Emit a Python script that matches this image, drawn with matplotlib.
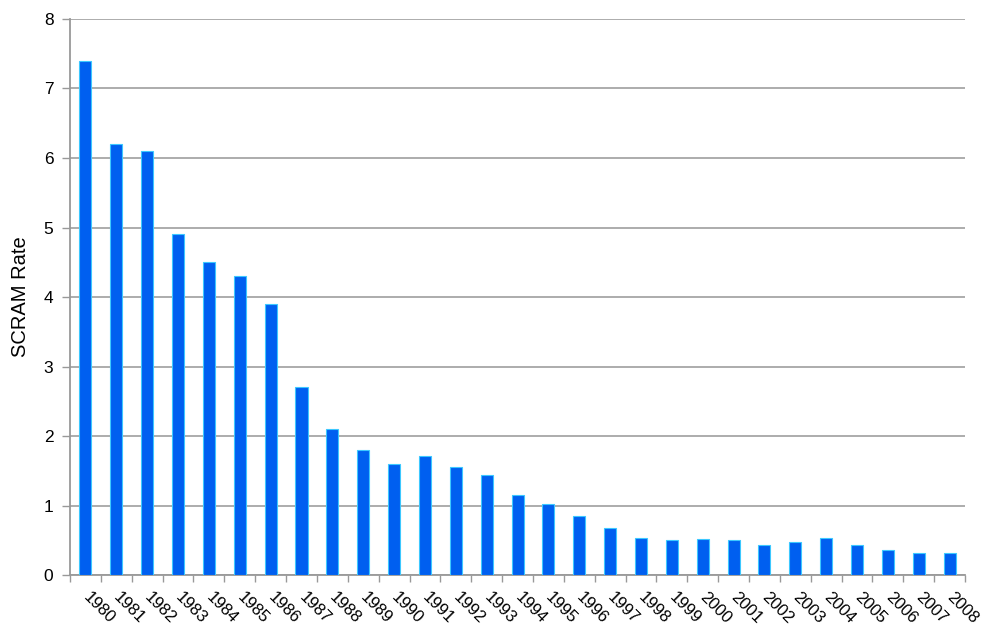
import matplotlib.pyplot as plt
import numpy as np

plt.rcParams['font.family'] = ['Liberation Sans', 'DejaVu Sans']

years = [str(y) for y in range(1980, 2009)]
scram_rate = [7.4, 6.2, 6.1, 4.9, 4.5, 4.3, 3.9, 2.7, 2.1, 1.8, 1.6, 1.72, 1.55, 1.44,
              1.15, 1.02, 0.85, 0.68, 0.53, 0.5, 0.52, 0.5, 0.44, 0.48, 0.54, 0.44,
              0.36, 0.32, 0.32]

fig = plt.figure(figsize=(9.95, 6.32), dpi=100)
ax = fig.add_axes([0.0704, 0.090, 0.8995, 0.880])

x = np.arange(len(years))
ax.bar(x, scram_rate, width=0.39, color='#005ff0', edgecolor='#3cc8ff', linewidth=0.8, zorder=3)

ax.set_xlim(-0.5, len(years) - 0.5)
ax.set_ylim(0, 8)
ax.set_yticks(range(0, 9))
ax.grid(axis='y', color='#a6a6a6', linewidth=1.3, zorder=0)

# year labels at bar centres, tick marks between bars
ax.set_xticks(x)
ax.set_xticklabels(years, rotation=-45, ha='left', va='center', rotation_mode='anchor', fontsize=12)
ax.set_xticks(np.arange(-0.5, len(years)), minor=True)
ax.tick_params(axis='x', which='major', length=0, pad=14)
ax.tick_params(axis='x', which='minor', length=5, color='#999999', width=1)
ax.tick_params(axis='y', length=6, color='#999999', width=1, labelsize=12.5, pad=6)

for side in ['top', 'right']:
    ax.spines[side].set_visible(False)
for side in ['left', 'bottom']:
    ax.spines[side].set_color('#999999')
    ax.spines[side].set_linewidth(1.3)

ax.set_ylabel('SCRAM Rate', fontsize=14.5, labelpad=10)

fig.savefig('out.png', dpi=100)
